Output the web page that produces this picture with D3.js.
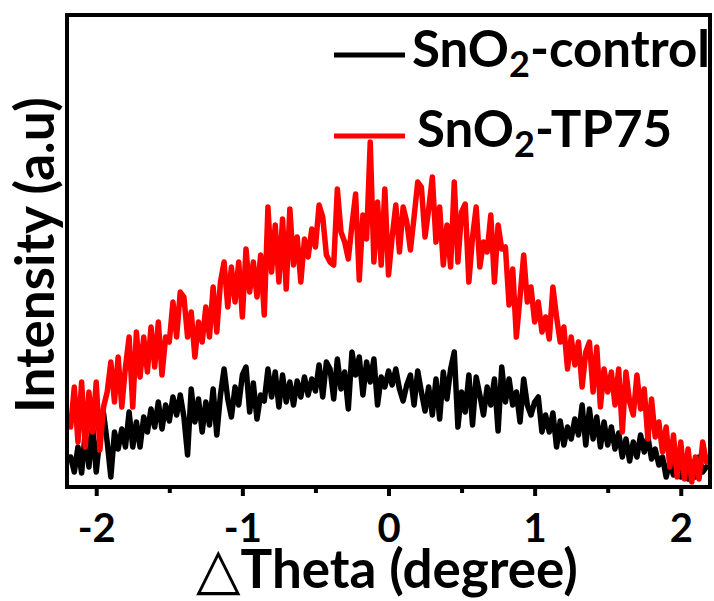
<!DOCTYPE html>
<html>
<head>
<meta charset="utf-8">
<script src="https://cdn.jsdelivr.net/npm/d3@7"></script>
<style>
  html, body { margin: 0; padding: 0; background: #fff; }
  svg { display: block; }
  text { font-family: Lato, "Open Sans", sans-serif; font-weight: 700; fill: #000; }
</style>
</head>
<body>
<div id="chart"></div>
<script>
// Rocking-curve scan: Δθ sampled every 0.025° from -2.175° to 2.175°
const thetaStart = -2.175;
const thetaStep = 0.025;
const nPoints = 175;

// Intensity (a.u.) of the SnO2-TP75 film
const tp75 = [
  60,100,45,105,40,95,55,105,37,
  80,95,125,85,130,80,
  120,150,80,155,110,150,
  115,160,120,165,112,150,
  145,185,150,195,190,150,
  175,130,165,
  145,180,150,200,155,205,225,180,220,185,225,170,238,195,225,190,232,172,280,215,262,205,268,198,278,222,250,205,248,230,258,240,282,270,232,
  225,222,298,255,245,228,262,293,207,272,248,345,225,285,222,298,212,250,282,235,280,265,237,270,305,300,250,278,310,245,280,222,262,220,305,225,
  275,283,205,250,280,220,245,235,272,205,262,238,240,182,218,150,190,232,185,200,165,185,155,170,148,200,170,145,160,118,150,122,145,100,135,
  145,95,140,80,118,95,115,82,118,55,115,85,72,112,78,98,48,88,50,65,35,60,20,52,10,45,8,38,5,30,8,45,25
];

// Intensity (a.u.) of the SnO2 control film
const control = [
  30,15,40,14,55,20,62,15,50,74,45,10,55,38,58,40,75,40,65,40,70,55,78,60,85,58,82,66,90,72,92,70,32,98,65,
  88,55,85,62,98,52,92,118,88,70,100,82,112,120,75,104,68,92,86,118,90,115,80,112,85,105,82,106,90,110,92,108,96,122,90,125,
  118,88,128,98,115,78,135,112,130,92,125,105,128,82,110,100,116,102,118,98,86,102,112,82,116,95,76,100,72,108,68,115,88,118,135,60,
  95,75,112,62,110,92,72,100,82,108,56,120,85,108,82,95,65,108,82,72,85,90,55,72,55,74,40,66,42,60,48,68,52,82,42,
  78,48,70,40,65,42,60,38,54,30,48,26,45,30,52,35,50,28,38,22,30,10,25,12,28,10,22,8,25,10,30,15,20
];

const theta = d3.range(nPoints).map(i => +(thetaStart + i * thetaStep).toFixed(3));

const majorTicks = [-2, -1, 0, 1, 2];
const minorTicks = [-1.5, -0.5, 0.5, 1.5];
const tickLabels = ["-2", "-1", "0", "1", "2"];

const series = [
  { name: "control", label: "-control", values: control, color: "#000000" },
  { name: "tp75", label: "-TP75", values: tp75, color: "#ff0000" }
];

const W = 714, H = 601;
const frame = { left: 67, right: 710, top: 15, bottom: 487 };

const x = d3.scaleLinear().domain([-2.2, 2.2]).range([frame.left, frame.right]);
const y = d3.scaleLinear().domain([0, 472]).range([frame.bottom, frame.top]);

const svg = d3.select("#chart").append("svg")
  .attr("width", W).attr("height", H);

svg.append("defs").append("clipPath").attr("id", "plot-clip")
  .append("rect")
  .attr("x", frame.left).attr("y", frame.top)
  .attr("width", frame.right - frame.left)
  .attr("height", frame.bottom - frame.top);

const line = d3.line()
  .x((d, i) => x(theta[i]))
  .y(d => y(d));

const plot = svg.append("g").attr("clip-path", "url(#plot-clip)");
series.forEach(s => {
  plot.append("path")
    .datum(s.values)
    .attr("d", line)
    .attr("fill", "none")
    .attr("stroke", s.color)
    .attr("stroke-width", 5.5)
    .attr("stroke-linejoin", "round")
    .attr("stroke-linecap", "round");
});

// Bottom axis with outward major and minor ticks
const xAxis = d3.axisBottom(x)
  .tickValues(majorTicks)
  .tickSize(9)
  .tickPadding(18)
  .tickFormat((d, i) => tickLabels[i]);

const gx = svg.append("g")
  .attr("transform", `translate(0,${frame.bottom})`)
  .call(xAxis);
gx.select(".domain").remove();
gx.selectAll(".tick line").attr("stroke", "#000").attr("stroke-width", 4);
gx.selectAll(".tick text")
  .attr("font-size", 40)
  .attr("font-family", "Lato, 'Open Sans', sans-serif")
  .attr("font-weight", 700)
  .attr("fill", "#000");

const xMinor = d3.axisBottom(x).tickValues(minorTicks).tickSize(6).tickFormat("");
const gxm = svg.append("g")
  .attr("transform", `translate(0,${frame.bottom})`)
  .call(xMinor);
gxm.select(".domain").remove();
gxm.selectAll(".tick line").attr("stroke", "#000").attr("stroke-width", 4);

// Frame
svg.append("rect")
  .attr("x", frame.left).attr("y", frame.top)
  .attr("width", frame.right - frame.left)
  .attr("height", frame.bottom - frame.top)
  .attr("fill", "none")
  .attr("stroke", "#000")
  .attr("stroke-width", 4);

// Axis titles
const xTitle = svg.append("text")
  .attr("x", 196).attr("y", 588)
  .attr("font-size", 53);
xTitle.append("tspan").attr("font-family", "'DejaVu Sans', sans-serif").attr("font-weight", 400).attr("font-size", 58).text("△");
xTitle.append("tspan").text("Theta (degree)");

svg.append("text")
  .attr("transform", "translate(54,255) rotate(-90)")
  .attr("text-anchor", "middle")
  .attr("font-size", 53)
  .text("Intensity (a.u)");

// Legend
const legendRows = [
  { s: series[0], y: 55, tx: 412, ty: 67 },
  { s: series[1], y: 136, tx: 417, ty: 147 }
];
legendRows.forEach(r => {
  svg.append("line")
    .attr("x1", 334).attr("x2", 405)
    .attr("y1", r.y).attr("y2", r.y)
    .attr("stroke", r.s.color)
    .attr("stroke-width", 5);
  const t = svg.append("text")
    .attr("x", r.tx).attr("y", r.ty)
    .attr("font-size", 51);
  t.append("tspan").text("SnO");
  t.append("tspan").attr("font-size", 36).attr("dy", 10).text("2");
  t.append("tspan").attr("dy", -10).text(r.s.label);
});
</script>
</body>
</html>
